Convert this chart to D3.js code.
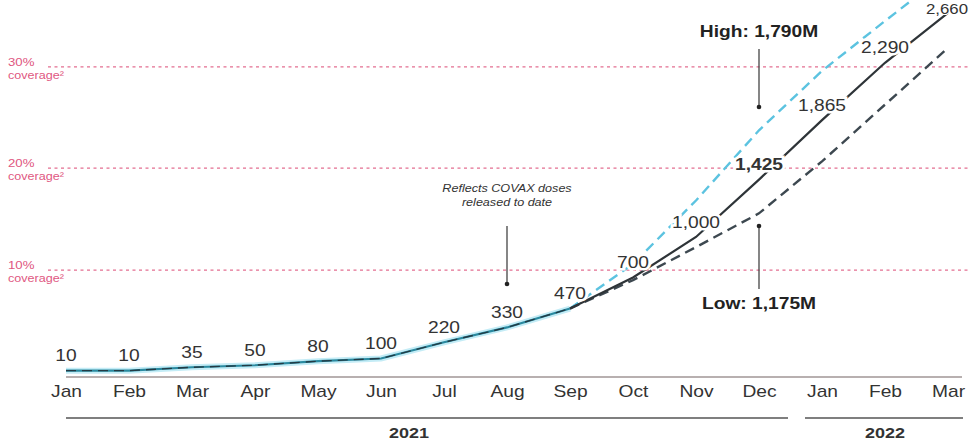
<!DOCTYPE html>
<html>
<head>
<meta charset="utf-8">
<script src="https://cdn.jsdelivr.net/npm/d3@7"></script>
<style>
  body { margin: 0; background: #fff; }
  svg { display: block; font-family: "Liberation Sans", Arial, sans-serif; }
</style>
</head>
<body>
<svg id="chart" width="969" height="443"></svg>
<script>
// Months on the x axis (Jan 2021 .. Mar 2022)
const months = ["Jan","Feb","Mar","Apr","May","Jun","Jul","Aug","Sep","Oct","Nov","Dec","Jan","Feb","Mar"];

// Cumulative COVAX doses, millions (base case, labelled)
const baseValues = [10, 10, 35, 50, 80, 100, 220, 330, 470, 700, 1000, 1425, 1865, 2290, 2660];
const baseLabels = ["10","10","35","50","80","100","220","330","470","700","1,000","1,425","1,865","2,290","2,660"];
const actualUntil = 8;  // index of Sep: doses released to date

// High / low scenarios, starting from Sep
const highValues = [470, 800, 1270, 1790, 2230, 2600, 2960];
const lowValues  = [470, 680, 925, 1175, 1560, 1980, 2400];
const scenarioStart = 8;

// Coverage reference lines (doses, millions)
const coverage = [
  { pct: "10%", doses: 755 },
  { pct: "20%", doses: 1510 },
  { pct: "30%", doses: 2260 }
];

const years = [
  { label: "2021", from: 0, to: 11 },
  { label: "2022", from: 12, to: 14 }
];

const svg = d3.select("#chart");
const ink = "#333";
const pink = "#e0577f";
const stretch = 1.2;   // the original type is set wide

const x = d3.scaleLinear().domain([0, months.length - 1]).range([66, 948]);
const y = d3.scaleLinear().domain([0, 2755]).range([372, 0]);

// place a text at (px,py), widened horizontally
function wide(sel, px, py) {
  return sel.attr("transform", (d, i) => {
    const tx = typeof px === "function" ? px(d, i) : px;
    const ty = typeof py === "function" ? py(d, i) : py;
    return "translate(" + tx + "," + ty + ") scale(" + stretch + ",1)";
  });
}

// coverage lines
const cov = svg.append("g");
cov.selectAll("line").data(coverage).join("line")
  .attr("x1", 48).attr("x2", 969)
  .attr("y1", d => y(d.doses)).attr("y2", d => y(d.doses))
  .attr("stroke", pink).attr("stroke-width", 1.2)
  .attr("stroke-dasharray", "3,3.5").attr("opacity", 0.85);
wide(cov.selectAll("text.pct").data(coverage).join("text").attr("class", "pct"),
     8, d => y(d.doses) - 1)
  .attr("font-size", 11).attr("fill", pink)
  .text(d => d.pct);
wide(cov.selectAll("text.cv").data(coverage).join("text").attr("class", "cv"),
     8, d => y(d.doses) + 12)
  .attr("font-size", 10.5).attr("fill", pink)
  .text("coverage²");

// axis
const axisY = 377;
svg.append("line")
  .attr("x1", x(0)).attr("x2", x(months.length - 1) + 14)
  .attr("y1", axisY).attr("y2", axisY)
  .attr("stroke", "#b8b0b0").attr("stroke-width", 2);

const axis = d3.axisBottom(x)
  .tickValues(d3.range(months.length))
  .tickFormat(i => months[i])
  .tickSize(0).tickPadding(9);
svg.append("g")
  .attr("transform", "translate(0," + axisY + ")")
  .call(axis)
  .call(g => g.select(".domain").remove())
  .call(g => g.selectAll("text")
    .attr("font-size", 16).attr("fill", ink)
    .attr("transform", "scale(" + stretch + ",1)")
    .attr("font-family", "Liberation Sans, Arial, sans-serif"));

// year brackets
const yr = svg.append("g");
yr.selectAll("line").data(years).join("line")
  .attr("x1", d => d.from === 0 ? x(d.from) : x(d.from) - 17)
  .attr("x2", d => d.to === months.length - 1 ? x(d.to) + 15 : x(d.to) + 29)
  .attr("y1", 418).attr("y2", 418)
  .attr("stroke", "#555").attr("stroke-width", 1.5);
wide(yr.selectAll("text").data(years).join("text"),
     d => d.from === 0 ? 409 : 885, 438)
  .attr("text-anchor", "middle")
  .attr("font-size", 15).attr("font-weight", "bold").attr("fill", ink)
  .text(d => d.label);

// lines
const line = d3.line().x(d => x(d.i)).y(d => y(d.v));
const basePts = baseValues.map((v, i) => ({ i, v }));
const actualPts = basePts.slice(0, actualUntil + 1);
const highPts = highValues.map((v, k) => ({ i: scenarioStart + k, v }));
const lowPts = lowValues.map((v, k) => ({ i: scenarioStart + k, v }));

// actual released doses: teal with light glow
svg.append("path").datum(actualPts).attr("d", line)
  .attr("fill", "none").attr("stroke", "#c4ecf6").attr("stroke-width", 6);
svg.append("path").datum(actualPts).attr("d", line)
  .attr("fill", "none").attr("stroke", "#2a8aa0").attr("stroke-width", 2.2);
svg.append("path").datum(actualPts).attr("d", line)
  .attr("fill", "none").attr("stroke", "#233a44").attr("stroke-width", 1.4)
  .attr("stroke-dasharray", "10,6");

svg.append("path").datum(highPts).attr("d", line)
  .attr("fill", "none").attr("stroke", "#5cc3e0").attr("stroke-width", 2.4)
  .attr("stroke-dasharray", "10,6");
svg.append("path").datum(lowPts).attr("d", line)
  .attr("fill", "none").attr("stroke", "#3d4850").attr("stroke-width", 2.4)
  .attr("stroke-dasharray", "10,6");
svg.append("path").datum(basePts.slice(actualUntil)).attr("d", line)
  .attr("fill", "none").attr("stroke", "#2e3438").attr("stroke-width", 2.2);

// value labels, white halo breaks the line
const last = baseValues.length - 1;
wide(svg.append("g").selectAll("text").data(basePts).join("text"),
     d => d.i === last ? 968 : x(d.i),
     d => Math.max(y(d.v) - 15, 9))
  .attr("dy", "0.35em")
  .attr("text-anchor", d => d.i === last ? "end" : "middle")
  .attr("font-size", d => d.i === last ? 14 : 16)
  .attr("font-weight", d => d.i === 11 ? "bold" : "normal")
  .attr("fill", ink)
  .attr("stroke", "#fff").attr("stroke-width", d => d.i === last ? 2 : 5)
  .attr("paint-order", "stroke")
  .text(d => baseLabels[d.i]);

// annotations
function pointer(xPos, yFrom, yTo, dotAt) {
  svg.append("line")
    .attr("x1", xPos).attr("x2", xPos).attr("y1", yFrom).attr("y2", yTo)
    .attr("stroke", "#444").attr("stroke-width", 1.3);
  svg.append("circle").attr("cx", xPos).attr("cy", dotAt).attr("r", 2.3).attr("fill", "#222");
}

const covaxX = x(7);
wide(svg.append("text"), covaxX, 192)
  .attr("text-anchor", "middle").attr("font-size", 10.5).attr("font-style", "italic").attr("fill", ink)
  .text("Reflects COVAX doses");
wide(svg.append("text"), covaxX, 206)
  .attr("text-anchor", "middle").attr("font-size", 10.5).attr("font-style", "italic").attr("fill", ink)
  .text("released to date");
pointer(covaxX, 226, 284, 284);

const decX = x(11);
wide(svg.append("text"), decX, 37)
  .attr("text-anchor", "middle").attr("font-size", 16).attr("font-weight", "bold").attr("fill", "#222")
  .text("High: 1,790M");
pointer(decX, 49, 107, 107);

wide(svg.append("text"), decX, 309)
  .attr("text-anchor", "middle").attr("font-size", 16).attr("font-weight", "bold").attr("fill", "#222")
  .text("Low: 1,175M");
pointer(decX, 226, 289, 226);
</script>
</body>
</html>
